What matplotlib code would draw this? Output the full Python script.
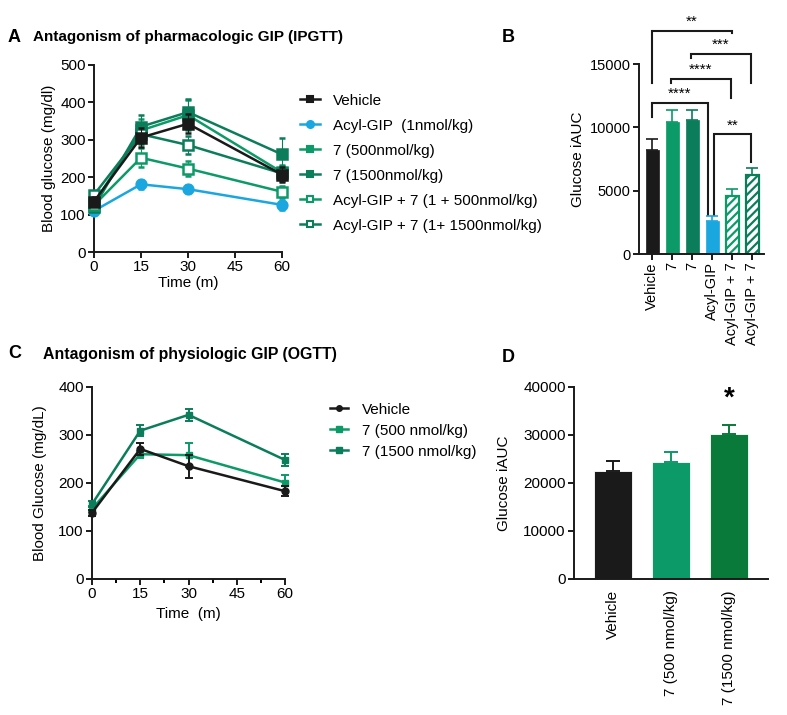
import matplotlib
matplotlib.use("Agg")
import matplotlib.pyplot as plt
from matplotlib.lines import Line2D
import numpy as np

plt.rcParams['font.family'] = ['Liberation Sans', 'DejaVu Sans']
plt.rcParams['font.size'] = 11
plt.rcParams['hatch.linewidth'] = 1.6

# ---- data ----
time = [0, 15, 30, 60]

# panel A (IPGTT)
a_labels = ["Vehicle", "Acyl-GIP  (1nmol/kg)", "7 (500nmol/kg)", "7 (1500nmol/kg)",
            "Acyl-GIP + 7 (1 + 500nmol/kg)", "Acyl-GIP + 7 (1+ 1500nmol/kg)"]
a_mean = [
    [135, 306, 343, 207],
    [110, 181, 168, 126],
    [130, 325, 366, 213],
    [120, 335, 374, 261],
    [125, 252, 223, 161],
    [153, 315, 286, 210],
]
a_err = [
    [12, 25, 25, 20],
    [8, 12, 10, 15],
    [10, 30, 40, 20],
    [10, 30, 35, 45],
    [10, 25, 20, 15],
    [10, 25, 25, 20],
]

# panel B (iAUC IPGTT)
b_labels = ["Vehicle", "7", "7", "Acyl-GIP", "Acyl-GIP + 7", "Acyl-GIP + 7"]
b_mean = [8200, 10450, 10600, 2630, 4600, 6210]
b_err = [850, 950, 800, 400, 530, 580]

# panel C (OGTT)
c_labels = ["Vehicle", "7 (500 nmol/kg)", "7 (1500 nmol/kg)"]
c_mean = [
    [138, 271, 235, 183],
    [146, 260, 258, 201],
    [156, 309, 342, 248],
]
c_err = [
    [6, 12, 24, 10],
    [6, 7, 25, 16],
    [6, 12, 12, 12],
]

# panel D (iAUC OGTT)
d_labels = ["Vehicle", "7 (500 nmol/kg)", "7 (1500 nmol/kg)"]
d_mean = [22500, 24400, 30200]
d_err = [2000, 2100, 1950]

BLACK = "#1a1a1a"
BLUE = "#1aa7e0"
GREEN = "#0c9a68"
DGREEN = "#0b7d5a"
DGREEN2 = "#0a7a3a"

W, H = 787, 715
fig = plt.figure(figsize=(W / 100, H / 100), dpi=100)


def rect(l, t, r, b):
    return [l / W, 1 - b / H, (r - l) / W, (b - t) / H]


def style(ax):
    for s in ["top", "right"]:
        ax.spines[s].set_visible(False)
    for s in ["left", "bottom"]:
        ax.spines[s].set_linewidth(1.4)
        ax.spines[s].set_color(BLACK)
    ax.tick_params(width=1.4, length=4, color=BLACK, labelsize=11, pad=2)


# ---------------- A ----------------
axA = fig.add_axes(rect(94, 65, 282, 252))
style(axA)
a_colors = [BLACK, BLUE, GREEN, DGREEN, GREEN, DGREEN]
a_markers = ["s", "o", "s", "s", "s", "s"]
a_fill = [True, True, True, True, False, False]
handles = []
for i in range(6):
    c = a_colors[i]
    fc = c if a_fill[i] else "white"
    axA.errorbar(time, a_mean[i], yerr=a_err[i], color=c, lw=1.8, elinewidth=0.8,
                 capsize=2, marker=a_markers[i], ms=7, mfc=fc, mec=c, mew=1.8,
                 clip_on=False, zorder=3 + (i == 0))
    handles.append(Line2D([], [], color=c, lw=1.8, marker=a_markers[i], ms=5,
                          mfc=fc, mec=c, mew=1.5))
axA.set_xlim(0, 60)
axA.set_ylim(0, 500)
axA.set_xticks([0, 15, 30, 45, 60])
axA.set_yticks([0, 100, 200, 300, 400, 500])
axA.set_xlabel("Time (m)", labelpad=1)
axA.set_ylabel("Blood glucose (mg/dl)", labelpad=3)
fig.legend(handles, a_labels, loc="upper left", bbox_to_anchor=(286 / W, 1 - 80 / H),
           frameon=False, handlelength=1.3, handletextpad=0.85, labelspacing=0.72,
           fontsize=11)
fig.text(8 / W, 1 - 37 / H, "A", fontsize=13, fontweight="bold", va="center")
fig.text(33 / W, 1 - 37 / H, "Antagonism of pharmacologic GIP (IPGTT)", fontsize=11,
         fontweight="bold", va="center")

# ---------------- B ----------------
axB = fig.add_axes(rect(639, 64, 764, 254))
style(axB)
axB.tick_params(labelsize=10.5)
xb = np.arange(len(b_mean))
b_face = [BLACK, GREEN, DGREEN, BLUE, "white", "white"]
b_edge = [BLACK, GREEN, DGREEN, BLUE, GREEN, DGREEN]
b_hatch = [None, None, None, None, "////", "////"]
for i in range(len(b_mean)):
    axB.bar(xb[i], b_mean[i], width=0.65, color=b_face[i], edgecolor=b_edge[i],
            hatch=b_hatch[i], linewidth=1.6 if b_hatch[i] else 0.5, zorder=2)
    axB.errorbar(xb[i], b_mean[i], yerr=[[0], [b_err[i]]], color=b_edge[i],
                 elinewidth=1.2, capsize=4, capthick=1.2, zorder=3)
axB.set_xlim(-0.65, 5.6)
axB.set_ylim(0, 15000)
axB.set_yticks([0, 5000, 10000, 15000])
axB.set_xticks(xb)
axB.set_xticklabels(b_labels, rotation=90)
axB.set_ylabel("Glucose iAUC", labelpad=3)


def bracket(ax, x1, x2, ytop, y1, y2, text, ty):
    ax.plot([x1, x1, x2, x2], [y1, ytop, ytop, y2], color=BLACK, lw=1.5,
            clip_on=False, solid_joinstyle="miter")
    ax.text((x1 + x2) / 2, ty, text, ha="center", va="center", fontsize=11,
            clip_on=False)


bracket(axB, 0, 4, 17620, 13510, 17450, "**", 18300)
bracket(axB, 1.95, 4.95, 15800, 15480, 13510, "***", 16550)
bracket(axB, 0.95, 3.95, 13820, 13510, 12320, "****", 14550)
bracket(axB, 0, 2.8, 11930, 10820, 3080, "****", 12650)
bracket(axB, 3.1, 4.95, 9480, 3080, 7270, "**", 10150)
fig.text(502 / W, 1 - 37 / H, "B", fontsize=13, fontweight="bold", va="center")

# ---------------- C ----------------
axC = fig.add_axes(rect(92, 387, 285, 579))
style(axC)
c_colors = [BLACK, GREEN, DGREEN]
c_markers = ["o", "s", "s"]
hC = []
for i in range(3):
    c = c_colors[i]
    axC.errorbar(time, c_mean[i], yerr=c_err[i], color=c, lw=1.8, elinewidth=1.4,
                 capsize=3, capthick=1.4, marker=c_markers[i], ms=5, mfc=c, mec=c,
                 clip_on=False, zorder=3 + (i == 0))
    hC.append(Line2D([], [], color=c, lw=1.8, marker=c_markers[i], ms=4, mfc=c, mec=c))
axC.set_xlim(0, 60)
axC.set_ylim(0, 400)
axC.set_xticks([0, 15, 30, 45, 60])
axC.set_xticks(np.arange(0, 61, 7.5), minor=True)
axC.tick_params(axis="x", which="minor", length=3, width=1.4)
axC.set_yticks([0, 100, 200, 300, 400])
axC.set_xlabel("Time  (m)", labelpad=4)
axC.set_ylabel("Blood Glucose (mg/dL)", labelpad=8)
fig.legend(hC, c_labels, loc="upper left", bbox_to_anchor=(316 / W, 1 - 389 / H),
           frameon=False, handlelength=1.2, handletextpad=0.9, labelspacing=0.46,
           fontsize=11)
fig.text(8 / W, 1 - 354 / H, "C", fontsize=13, fontweight="bold", va="center")
fig.text(43 / W, 1 - 354 / H, "Antagonism of physiologic GIP (OGTT)", fontsize=11.4,
         fontweight="bold", va="center")

# ---------------- D ----------------
axD = fig.add_axes(rect(574, 387, 768, 579))
style(axD)
xd = np.arange(3)
d_colors = [BLACK, GREEN, DGREEN2]
for i in range(3):
    axD.bar(xd[i], d_mean[i], width=0.66, color=d_colors[i], edgecolor="white",
            linewidth=0.6, zorder=2)
    axD.errorbar(xd[i], d_mean[i], yerr=[[0], [d_err[i]]], color=d_colors[i],
                 elinewidth=1.4, capsize=5, capthick=1.4, zorder=3)
axD.text(2, 37600, "*", ha="center", va="center", fontsize=20, fontweight="bold")
axD.set_xlim(-0.67, 2.67)
axD.set_ylim(0, 40000)
axD.set_yticks([0, 10000, 20000, 30000, 40000])
axD.set_xticks(xd)
axD.set_xticklabels(d_labels, rotation=90)
axD.tick_params(axis="x", length=0, pad=8)
axD.set_ylabel("Glucose iAUC", labelpad=9)
fig.text(502 / W, 1 - 357 / H, "D", fontsize=13, fontweight="bold", va="center")

fig.savefig("out.png", dpi=100)
